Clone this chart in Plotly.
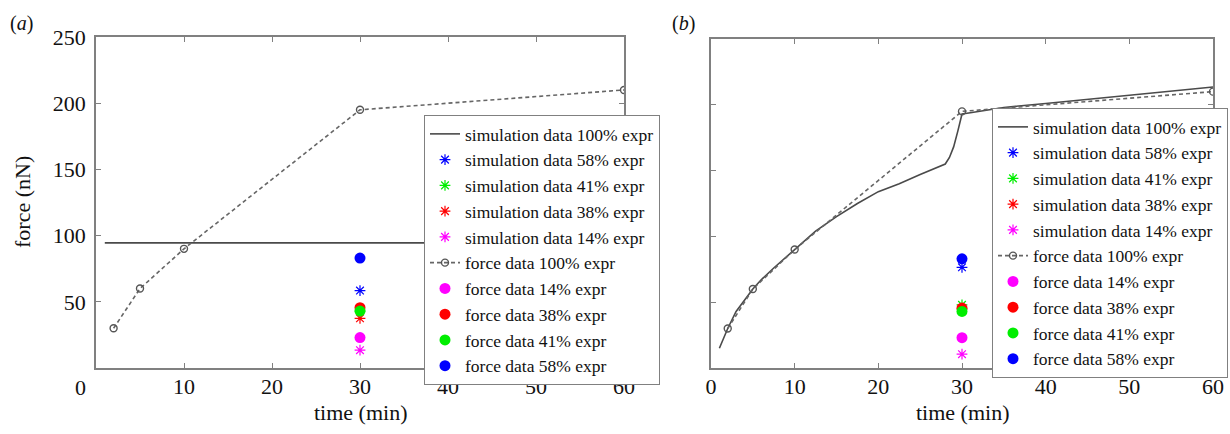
import plotly.graph_objects as go

# ---------------- data ----------------
# panel (a)
sim100_a_t = [1, 60]
sim100_a_f = [94.5, 94.5]
# panel (b)
sim100_b_t = [1, 1.5, 2, 3, 4, 5, 6, 7.5, 10, 12.5, 15, 17.5, 20, 22.5, 25, 27, 28, 28.5, 29, 29.5, 30, 31, 35, 40, 45, 50, 55, 60]
sim100_b_f = [15, 23, 30, 43, 52, 60, 67, 76, 90, 104, 115, 125, 134, 140, 147, 152, 155, 160, 168, 180, 193, 194, 198, 201, 204, 207.5, 210.5, 213.5]

force100_t = [2, 5, 10, 30, 60]
force100_f = [30, 60, 90, 195, 210]

t30 = [30]
# simulation data at 30 min (a), (b)
sim_a = {"58": 58.5, "41": 43, "38": 37.5, "14": 13.5}
sim_b = {"58": 76.5, "41": 48, "38": 45, "14": 10.5}
# force data at 30 min (same in both panels)
force_pts = {"14": 23, "38": 45.5, "41": 43, "58": 83}

sim_order = ["58", "41", "38", "14"]
force_order = ["14", "38", "41", "58"]
colors = {"58": "#0000FF", "41": "#00EE00", "38": "#FF0000", "14": "#FF00FF"}

FONT = "Liberation Serif, Times New Roman, serif"
W, H = 1230, 434

fig = go.Figure()


def add_panel(xa, ya, leg, sim_t, sim_f, sims):
    fig.add_trace(go.Scatter(x=sim_t, y=sim_f, mode="lines",
                             line=dict(color="#4a4a4a", width=1.6),
                             name="simulation data 100% expr",
                             xaxis=xa, yaxis=ya, legend=leg))
    for k in sim_order:
        fig.add_trace(go.Scatter(x=t30, y=[sims[k]], mode="markers",
                                 marker=dict(symbol="asterisk-open", size=9, color=colors[k],
                                             line=dict(width=1.2, color=colors[k])),
                                 name=f"simulation data {k}% expr",
                                 xaxis=xa, yaxis=ya, legend=leg))
    fig.add_trace(go.Scatter(x=force100_t, y=force100_f, mode="lines+markers",
                             line=dict(color="#666666", width=1.6, dash="4px,3px"),
                             marker=dict(symbol="circle-open", size=7, color="#555555",
                                         line=dict(width=1.4, color="#555555")),
                             name="force data 100% expr",
                             xaxis=xa, yaxis=ya, legend=leg))
    for k in force_order:
        fig.add_trace(go.Scatter(x=t30, y=[force_pts[k]], mode="markers",
                                 marker=dict(symbol="circle", size=11, color=colors[k]),
                                 name=f"force data {k}% expr",
                                 xaxis=xa, yaxis=ya, legend=leg))


add_panel("x", "y", "legend", sim100_a_t, sim100_a_f, sim_a)
add_panel("x2", "y2", "legend2", sim100_b_t, sim100_b_f, sim_b)

axis_common = dict(showline=True, linecolor="#808080", linewidth=1.5, mirror="ticks",
                   ticks="inside", ticklen=5, tickcolor="#808080", tickwidth=1,
                   showgrid=False, zeroline=False, automargin=False,
                   tickfont=dict(family=FONT, size=22, color="#111"))

ydom = [66 / H, 1 - 37 / H]
ydom_b = [66 / H, 1 - 39 / H]

legend_common = dict(font=dict(family=FONT, size=17.5, color="#111"),
                     bgcolor="white", bordercolor="#808080", borderwidth=1,
                     xanchor="left", yanchor="top", itemclick=False)

fig.update_layout(
    width=W, height=H,
    margin=dict(l=0, r=0, t=0, b=0, autoexpand=False),
    paper_bgcolor="white", plot_bgcolor="white",
    font=dict(family=FONT, color="#111"),
    xaxis=dict(domain=[96 / W, 624 / W], range=[0, 60], tickvals=[10, 20, 30, 40, 50, 60],
               anchor="y", ticklabelstandoff=-2, **axis_common),
    yaxis=dict(domain=ydom, range=[0, 250], tickvals=[50, 100, 150, 200, 250],
               anchor="x", ticklabelstandoff=4, **axis_common),
    xaxis2=dict(domain=[711 / W, 1213 / W], range=[0, 60], tickvals=[0, 10, 20, 30, 40, 50, 60],
                anchor="y2", ticklabelstandoff=-2, **axis_common),
    yaxis2=dict(domain=ydom_b, range=[0, 250], tickvals=[50, 100, 150, 200],
                showticklabels=False, anchor="x2", **axis_common),
    legend=dict(x=424 / W, y=1 - 115 / H, **legend_common),
    legend2=dict(x=992 / W, y=1 - 108 / H, **legend_common),
    showlegend=True,
)

ann = [
    dict(text="(<i>a</i>)", x=8, y=24, xanchor="left", size=20),
    dict(text="(<i>b</i>)", x=670, y=24, xanchor="left", size=20),
    dict(text="0", x=88, y=387, xanchor="right", size=22),
    dict(text="time (min)", x=360, y=412, xanchor="center", size=22),
    dict(text="time (min)", x=962, y=412, xanchor="center", size=22),
]
for a in ann:
    fig.add_annotation(text=a["text"], x=a["x"] / W, y=1 - a["y"] / H, xref="paper", yref="paper",
                       xanchor=a["xanchor"], yanchor="middle", showarrow=False,
                       font=dict(family=FONT, size=a["size"], color="#111"))
fig.add_annotation(text="force (nN)", x=22 / W, y=1 - 202 / H, xref="paper", yref="paper",
                   xanchor="center", yanchor="middle", showarrow=False, textangle=-90,
                   font=dict(family=FONT, size=22, color="#111"))

fig.write_html("out.html", config={"displayModeBar": False},
               post_script="document.body.style.margin='0';document.body.style.overflow='hidden';")
